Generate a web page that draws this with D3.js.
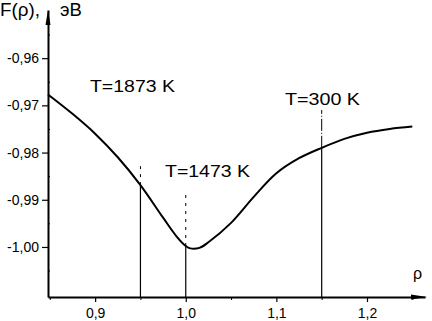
<!DOCTYPE html>
<html><head><meta charset="utf-8">
<script src="https://cdn.jsdelivr.net/npm/d3@7"></script>
<style>body{margin:0;background:#fff}svg{display:block}text{font-family:"Liberation Sans",Arial,sans-serif;fill:#000}</style>
</head><body><svg id="c" width="432" height="321"></svg>
<script>
const rho = [0.848,0.875,0.90,0.925,0.95,0.975,0.99,1.0,1.005,1.015,1.025,1.05,1.075,1.10,1.125,1.15,1.175,1.20,1.225,1.25];
const F   = [-0.9677,-0.9718,-0.9760,-0.9810,-0.9869,-0.9938,-0.9978,-0.9998,-1.0003,-1.0002,-0.9990,-0.9949,-0.9894,-0.9844,-0.9812,-0.9790,-0.9771,-0.9758,-0.9750,-0.9745];
const xTicks = [0.9,1.0,1.1,1.2];
const xTickLabels = ["0,9","1,0","1,1","1,2"];
const yTicks = [-0.96,-0.97,-0.98,-0.99,-1.00];
const yTickLabels = ["-0,96","-0,97","-0,98","-0,99","-1,00"];
const tempRho = [0.95,1.0,1.15];
const tempTop = [-0.9821,-0.9885,-0.9710];
const tempLabels = ["T=1873 K","T=1473 K","T=300 K"];
const labelRho = [0.8943,0.9771,1.1095];
const labelF = [-0.9672,-0.9852,-0.96995];
const labelWidth = [85,85,75];

const svg = d3.select("#c");
const x = d3.scaleLinear().domain([0.848,1.264]).range([48,425]);
const y = d3.scaleLinear().domain([-1.0106,-0.9498]).range([297,10]);
const interp = d3.scaleLinear().domain(rho).range(F);

// vertical temperature lines
tempRho.forEach((r,i)=>{
  const yc = y(interp(r));
  svg.append("line").attr("x1",x(r)).attr("x2",x(r)).attr("y1",y.range()[0]).attr("y2",yc)
    .attr("stroke","#000").attr("stroke-width",1.2);
  svg.append("line").attr("x1",x(r)).attr("x2",x(r)).attr("y1",yc).attr("y2",y(tempTop[i]))
    .attr("stroke","#000").attr("stroke-width",1).attr("stroke-dasharray", i===2?"12,2,1,2":"3,5");
});

// curve
svg.append("path").datum(rho.map((r,i)=>[r,F[i]]))
  .attr("d",d3.line().x(d=>x(d[0])).y(d=>y(d[1])).curve(d3.curveCatmullRom.alpha(0.5)))
  .attr("fill","none").attr("stroke","#000").attr("stroke-width",2);

// axes
const xAxis = d3.axisBottom(x).tickValues(xTicks).tickFormat((d,i)=>xTickLabels[i]).tickSize(5).tickSizeOuter(0);
const gx = svg.append("g").attr("transform",`translate(0,${y.range()[0]})`).call(xAxis);
gx.select(".domain").attr("stroke-width",2);
gx.selectAll(".tick line").attr("stroke-width",1.2);
gx.selectAll("text").attr("font-size",14).attr("y",21).attr("dy",null);
const xMinor = d3.axisBottom(x).tickValues([0.85,0.95,1.05,1.15,1.25]).tickFormat("").tickSize(3).tickSizeOuter(0);
svg.append("g").attr("transform",`translate(0,${y.range()[0]})`).call(xMinor).select(".domain").remove();

const yAxis = d3.axisLeft(y).tickValues(yTicks).tickFormat((d,i)=>yTickLabels[i]).tickSize(6).tickSizeOuter(0);
const gy = svg.append("g").attr("transform",`translate(${x.range()[0]},0)`).call(yAxis);
gy.select(".domain").attr("stroke-width",2);
gy.selectAll(".tick line").attr("stroke-width",1.2);
gy.selectAll("text").attr("font-size",14).attr("x",-9);
const yMinor = d3.axisRight(y).tickValues([-0.955,-0.965,-0.975,-0.985,-0.995,-1.005]).tickFormat("").tickSize(2).tickSizeOuter(0);
svg.append("g").attr("transform",`translate(${x.range()[0]},0)`).call(yMinor).select(".domain").remove();

// arrows
const ax0 = x.range()[0], ayTop = y.range()[1], ayBot = y.range()[0], axEnd = x.range()[1];
svg.append("path").attr("d",`M${ax0-2.5},${ayTop+15} L${ax0},${ayTop} L${ax0+2.5},${ayTop+15} Z`).attr("fill","#000");
svg.append("path").attr("d",`M${axEnd-14},${ayBot-2.5} L${axEnd+2},${ayBot} L${axEnd-14},${ayBot+2.5} Z`).attr("fill","#000");

// labels
tempLabels.forEach((t,i)=>{
  svg.append("text").attr("x",x(labelRho[i])).attr("y",y(labelF[i])).attr("font-size",17)
    .attr("textLength",labelWidth[i]).attr("lengthAdjust","spacingAndGlyphs").text(t);
});
svg.append("text").attr("x",0).attr("y",16).attr("font-size",18.5).attr("textLength",40).attr("lengthAdjust","spacingAndGlyphs").text("F(ρ),");
svg.append("text").attr("x",60).attr("y",16).attr("font-size",18.5).text("эВ");
svg.append("text").attr("x",413).attr("y",279).attr("font-size",16).text("ρ");
</script></body></html>
